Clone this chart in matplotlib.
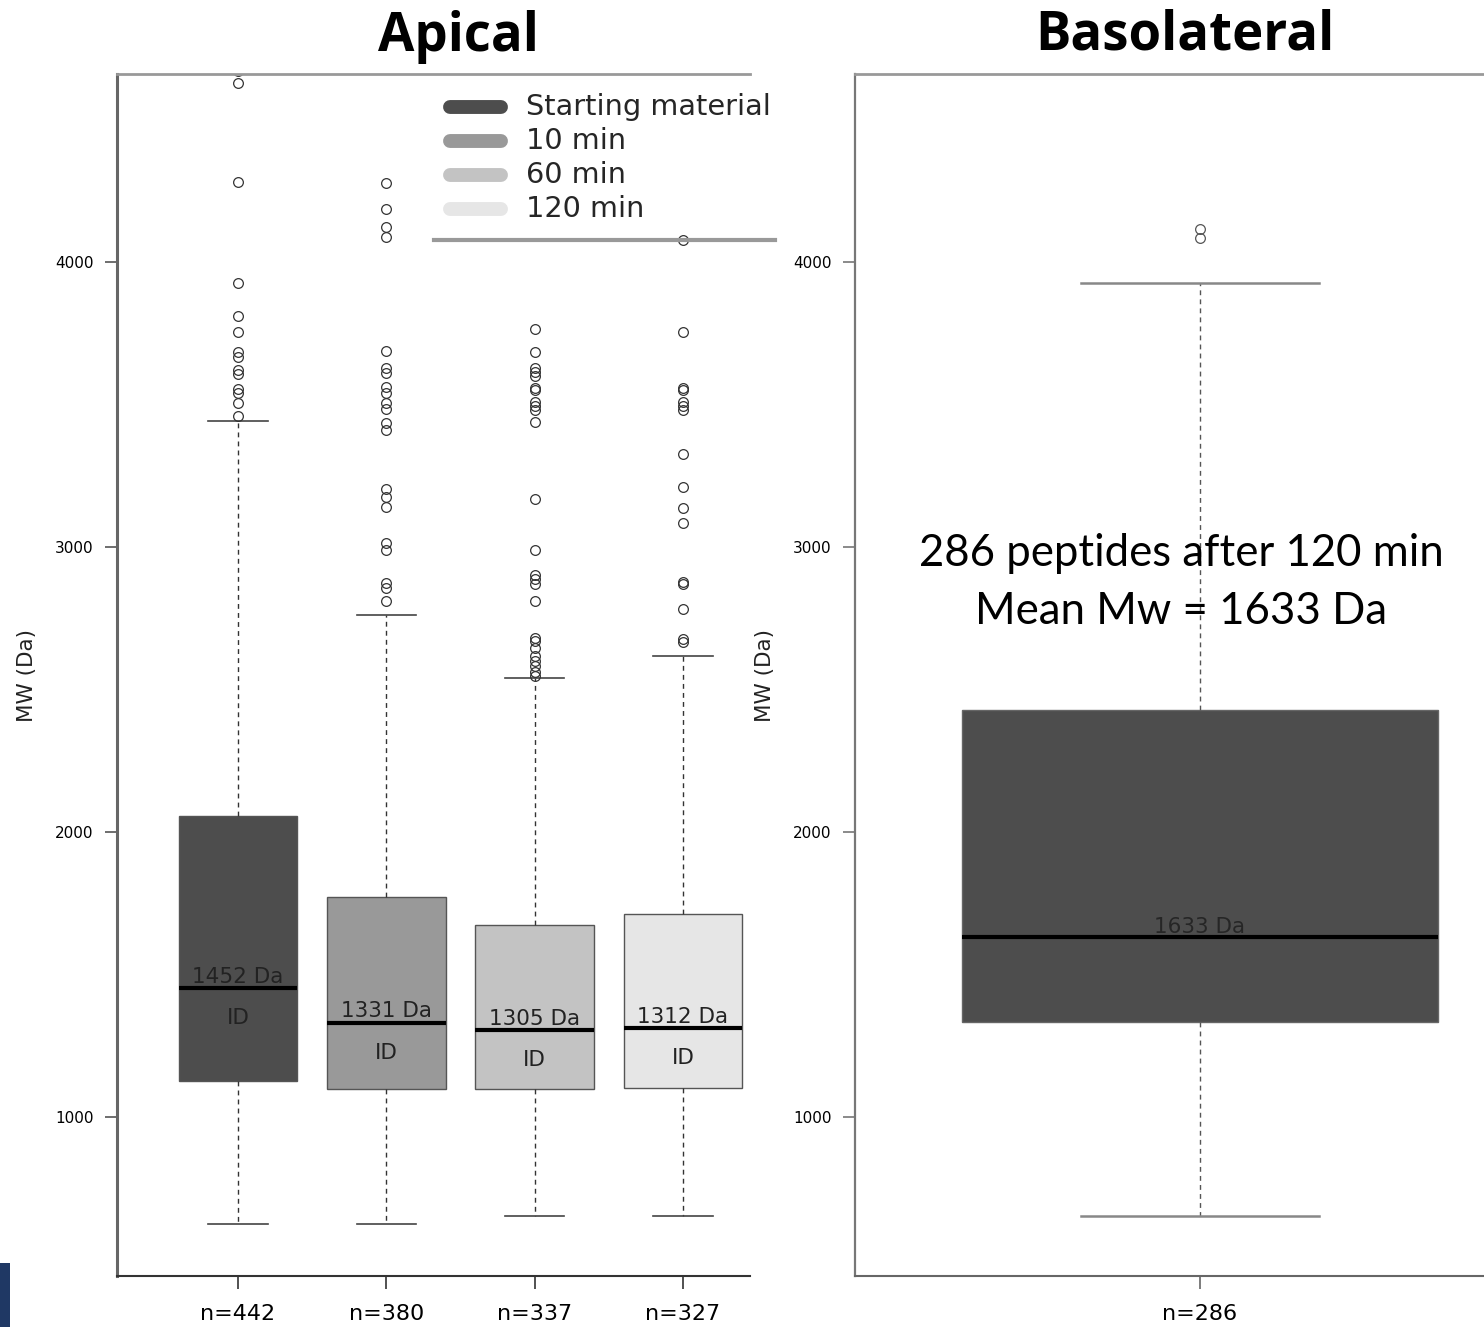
import numpy as np
import matplotlib.pyplot as plt
from matplotlib.lines import Line2D
from matplotlib.patches import Rectangle

W, H = 1484, 1327

# --- data ---
groups = ['Starting material', '10 min', '60 min', '120 min']
n_labels = ['n=442', 'n=380', 'n=337', 'n=327']
box_colors = ['#4d4d4d', '#999999', '#c3c3c3', '#e6e6e6']
q1 = [1126, 1098, 1098, 1102]
med = [1452, 1331, 1305, 1312]
q3 = [2056, 1772, 1674, 1712]
whislo = [625, 625, 653, 653]
whishi = [3442, 2761, 2540, 2618]
fliers = [
    [4670, 4628, 4281, 3925, 3811, 3755, 3685, 3668, 3621, 3607, 3553, 3540, 3504, 3460],
    [4278, 4185, 4124, 4089, 3688, 3628, 3611, 3561, 3540, 3505, 3484, 3435, 3410,
     3204, 3175, 3140, 3014, 2989, 2874, 2856, 2811],
    [3764, 3685, 3627, 3615, 3600, 3557, 3551, 3510, 3495, 3481, 3440, 3167, 2989,
     2901, 2887, 2870, 2811, 2680, 2671, 2645, 2618, 2601, 2582, 2562, 2547],
    [4077, 3755, 3557, 3551, 3510, 3495, 3481, 3326, 3209, 3136, 3085, 2878, 2870,
     2781, 2676, 2668],
]

baso_label = 'n=286'
baso_q1 = 1333
baso_med = 1633
baso_q3 = 2428
baso_whislo = 653
baso_whishi = 3926
baso_fliers = [4116, 4084]

yticks = [1000, 2000, 3000, 4000]


def fx(px):
    return px / W


def fy(py):
    return 1 - py / H


fig = plt.figure(figsize=(W / 100, H / 100), dpi=100)

# ---------------- Apical ----------------
ax = fig.add_axes([fx(117), fy(1276), fx(750) - fx(117), fy(74) - fy(1276)])
stats = []
for i in range(4):
    stats.append(dict(q1=q1[i], med=med[i], q3=q3[i], whislo=whislo[i],
                      whishi=whishi[i], fliers=fliers[i]))
bp = ax.bxp(stats, positions=[1, 2, 3, 4], widths=0.8, patch_artist=True,
            boxprops=dict(edgecolor='#555555', linewidth=1.0),
            whiskerprops=dict(color='#333333', linewidth=1.0, linestyle=(0, (3.5, 3))),
            capprops=dict(color='#444444', linewidth=1.2),
            medianprops=dict(color='black', linewidth=3),
            flierprops=dict(marker='o', markerfacecolor='none', markeredgecolor='#333333',
                            markersize=7, markeredgewidth=0.9),
            manage_ticks=False)
for patch, c in zip(bp['boxes'], box_colors):
    patch.set_facecolor(c)

for i, m in enumerate(med):
    ax.annotate(f'{m} Da', (i + 1, m), xytext=(0, 1), textcoords='offset points',
                ha='center', va='bottom', fontsize=15.5, color='#222222')
    ax.annotate('ID', (i + 1, m), xytext=(0, -21.5), textcoords='offset points',
                ha='center', va='center', fontsize=15.5, color='#222222')

ax.set_xlim(0.184, 4.452)
ax.set_ylim(442, 4660)
ax.set_xticks([1, 2, 3, 4], n_labels)
ax.set_yticks(yticks)
ax.tick_params(axis='x', length=9, width=1.2, labelsize=16, pad=11, color='#333333')
ax.tick_params(axis='y', length=9, width=1.2, labelsize=11, pad=8, color='#555555')
ax.spines['right'].set_visible(False)
ax.spines['left'].set_color('#666666')
ax.spines['left'].set_linewidth(2.2)
ax.spines['top'].set_color('#999999')
ax.spines['top'].set_linewidth(2)
ax.spines['bottom'].set_color('#333333')
ax.spines['bottom'].set_linewidth(1.5)

# ---------------- Basolateral ----------------
ax2 = fig.add_axes([fx(855), fy(1276), 1 - fx(855), fy(74) - fy(1276)])
bp2 = ax2.bxp([dict(q1=baso_q1, med=baso_med, q3=baso_q3, whislo=baso_whislo,
                    whishi=baso_whishi, fliers=baso_fliers)],
              positions=[1], widths=0.8, patch_artist=True,
              boxprops=dict(edgecolor='#666666', linewidth=1.0),
              whiskerprops=dict(color='#555555', linewidth=1.0, linestyle=(0, (3.5, 3))),
              capprops=dict(color='#888888', linewidth=1.8),
              medianprops=dict(color='black', linewidth=3),
              flierprops=dict(marker='o', markerfacecolor='none', markeredgecolor='#555555',
                              markersize=7, markeredgewidth=0.9),
              manage_ticks=False)
bp2['boxes'][0].set_facecolor(box_colors[0])
ax2.annotate(f'{baso_med} Da', (1, baso_med), xytext=(0, 0), textcoords='offset points',
             ha='center', va='bottom', fontsize=15.5, color='#262626')

ax2.set_xlim(1 - 345 / 595, 1 + 284 / 595)
ax2.set_ylim(442, 4660)
ax2.set_xticks([1], [baso_label])
ax2.set_yticks(yticks)
ax2.tick_params(axis='x', length=9, width=1.2, labelsize=16, pad=11, color='#666666')
ax2.tick_params(axis='y', length=9, width=1.2, labelsize=11, pad=8, color='#777777')
ax2.spines['right'].set_visible(False)
ax2.spines['left'].set_color('#777777')
ax2.spines['left'].set_linewidth(1.6)
ax2.spines['top'].set_color('#999999')
ax2.spines['top'].set_linewidth(2)
ax2.spines['bottom'].set_color('#666666')
ax2.spines['bottom'].set_linewidth(1.5)

# y labels
fig.text(fx(27), fy(675), 'MW (Da)', rotation=90, ha='center', va='center',
         fontsize=15.5, color='#222222')
fig.text(fx(765), fy(675), 'MW (Da)', rotation=90, ha='center', va='center',
         fontsize=15.5, color='#222222')

# titles
fig.text(fx(458), fy(37), 'Apical', ha='center', va='center', fontsize=38,
         fontweight='bold', family='Open Sans')
fig.text(fx(1185), fy(35), 'Basolateral', ha='center', va='center', fontsize=38,
         fontweight='bold', family='Open Sans')

# annotation in the basolateral panel
fig.text(fx(1181), fy(553), '286 peptides after 120 min', ha='center', va='center',
         fontsize=31.5, family='Lato')
fig.text(fx(1181), fy(611), 'Mean Mw = 1633 Da', ha='center', va='center',
         fontsize=31.5, family='Lato')

# legend (drawn by hand, it sits partly outside the axes)
for i, (lab, c) in enumerate(zip(groups, box_colors)):
    yy = fy(107 + 34 * i)
    fig.add_artist(Line2D([fx(450), fx(501)], [yy, yy], color=c, linewidth=10,
                          solid_capstyle='round', zorder=5))
    fig.text(fx(526), yy, lab, ha='left', va='center', fontsize=20.7, color='#262626',
             zorder=5)
fig.add_artist(Line2D([fx(434), fx(775)], [fy(240), fy(240)], color='#999999',
                      linewidth=3, zorder=5))

# navy slide marker at bottom left
fig.add_artist(Rectangle((0, 0), fx(10), 64 / H, transform=fig.transFigure,
                         facecolor='#1f3864', edgecolor='none'))

fig.savefig('out.png', dpi=100)
